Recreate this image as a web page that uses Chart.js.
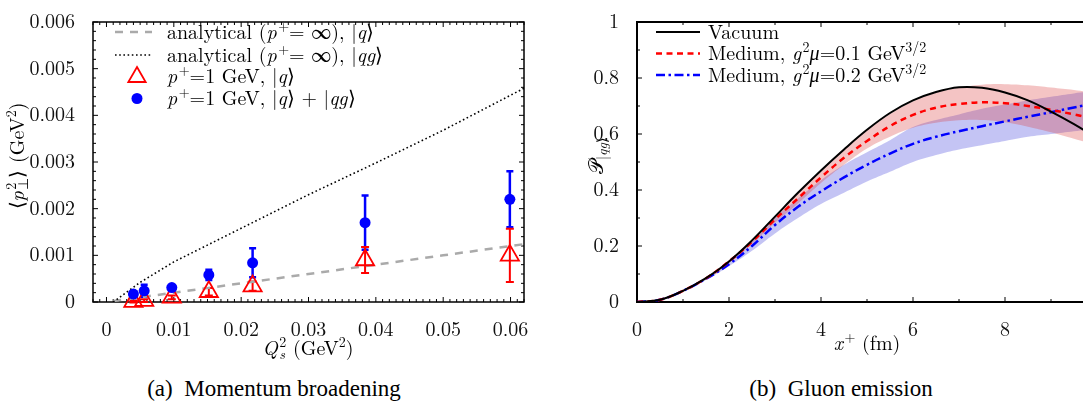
<!DOCTYPE html>
<html>
<head>
<meta charset="utf-8">
<script src="https://cdn.jsdelivr.net/npm/chart.js@4.4.1/dist/chart.umd.min.js"></script>
<style>
html, body { margin: 0; padding: 0; background: #fff; }
#wrap { position: relative; width: 1083px; height: 412px; overflow: hidden; }
canvas { position: absolute; top: 0; }
#left { left: 0; }
#right { left: 560px; }
.cap { position: absolute; top: 376px; transform: translateX(-50%); font-family: 'Liberation Serif'; font-size: 23px; line-height: 26px; color: #000; white-space: nowrap; }
</style>
</head>
<body>
<div id="wrap">
  <canvas id="left" width="560" height="370"></canvas>
  <canvas id="right" width="560" height="370"></canvas>
  <div class="cap" style="left:274px">(a)&nbsp; Momentum broadening</div>
  <div class="cap" style="left:841px">(b)&nbsp; Gluon emission</div>
</div>
<script>
// (a) momentum broadening
const qs = [0.0040, 0.0056, 0.0097, 0.0152, 0.0217, 0.0384, 0.0599];
const pQ = [0.00001, 0.00003, 0.00010, 0.00022, 0.00034, 0.00090, 0.00100];
const pQErr = [0.00002, 0.00003, 0.00004, 0.00008, 0.00010, 0.00028, 0.00057];
const pQG = [0.00017, 0.00024, 0.00031, 0.00058, 0.00084, 0.00170, 0.00220];
const pQGErr = [0.00005, 0.00013, 0.00004, 0.00011, 0.00031, 0.00058, 0.00060];
const anaX = [0.001, 0.005, 0.01, 0.02, 0.03, 0.04, 0.05, 0.062];
const anaQ = [0.00002, 0.0001, 0.0002, 0.0004, 0.0006, 0.0008, 0.001, 0.00124];
const anaQG = [0, 0.00042, 0.00086, 0.00158, 0.0023, 0.00298, 0.00368, 0.00458];

// (b) gluon emission
const xp = [0, 0.5, 1, 1.5, 2, 2.5, 3, 3.5, 4, 4.5, 5, 5.5, 6, 6.5, 7, 7.5, 8, 8.5, 9, 9.5, 10];
const vac = [0, 0.008, 0.04, 0.085, 0.145, 0.22, 0.305, 0.39, 0.47, 0.545, 0.615, 0.675, 0.72, 0.75, 0.767, 0.765, 0.748, 0.72, 0.68, 0.635, 0.585];
const med1 = [0, 0.008, 0.04, 0.085, 0.145, 0.215, 0.295, 0.37, 0.445, 0.515, 0.575, 0.628, 0.668, 0.694, 0.707, 0.713, 0.71, 0.70, 0.686, 0.67, 0.652];
const med1Lo = [0, 0.006, 0.038, 0.083, 0.14, 0.207, 0.283, 0.352, 0.425, 0.49, 0.548, 0.59, 0.622, 0.64, 0.649, 0.65, 0.642, 0.626, 0.606, 0.583, 0.559];
const med1Hi = [0, 0.010, 0.042, 0.087, 0.15, 0.223, 0.307, 0.388, 0.47, 0.547, 0.613, 0.671, 0.716, 0.747, 0.765, 0.776, 0.778, 0.774, 0.766, 0.757, 0.745];
const med2 = [0, 0.008, 0.04, 0.083, 0.135, 0.2, 0.275, 0.34, 0.395, 0.445, 0.49, 0.53, 0.565, 0.59, 0.61, 0.628, 0.645, 0.662, 0.678, 0.695, 0.71];
const med2Lo = [0, 0.006, 0.037, 0.079, 0.128, 0.183, 0.245, 0.30, 0.35, 0.39, 0.43, 0.465, 0.50, 0.525, 0.545, 0.56, 0.575, 0.59, 0.60, 0.61, 0.62];
const med2Hi = [0, 0.010, 0.043, 0.087, 0.142, 0.215, 0.30, 0.37, 0.435, 0.49, 0.535, 0.578, 0.625, 0.65, 0.67, 0.69, 0.705, 0.72, 0.733, 0.745, 0.755];

const FONT = "'Latin Modern Roman', 'Liberation Serif', serif";
Chart.defaults.font.family = FONT;
Chart.defaults.font.size = 20;
Chart.defaults.color = '#111';

const pts = (xs, ys) => xs.map((v, i) => ({ x: v, y: ys[i] }));

// rich text: items are strings or [text, flags]; flags i=italic ^=sup _=sub k=stack next
function drawRich(ctx, items, x, y, size, align) {
  const parts = [];
  let cx = 0, keepX = null, keepW = 0, prevItalic = false;
  for (const it of items) {
    const [t, f] = typeof it === 'string' ? [it, ''] : it;
    const small = f.includes('^') || f.includes('_');
    const font = (f.includes('i') ? 'italic ' : '') + (small ? Math.round(size * 0.7) : size) + 'px ' + FONT;
    ctx.font = font;
    const w = ctx.measureText(t).width;
    const dy = f.includes('^') ? -size * 0.4 : f.includes('_') ? size * 0.22 : 0;
    if (f.includes('^') && prevItalic && keepX === null) cx += 1.5;
    if (keepX !== null) {
      parts.push({ t, font, x: keepX, dy });
      cx = keepX + Math.max(w, keepW);
      keepX = null;
    } else {
      parts.push({ t, font, x: cx, dy });
      if (f.includes('k')) { keepX = cx; keepW = w; } else cx += w;
    }
    prevItalic = f.includes('i') && !small;
  }
  const x0 = align === 'center' ? x - cx / 2 : x;
  ctx.textAlign = 'left';
  ctx.textBaseline = 'alphabetic';
  for (const p of parts) {
    ctx.font = p.font;
    ctx.fillText(p.t, x0 + p.x, y + p.dy);
  }
}

const framePlugin = {
  id: 'frame',
  beforeDatasetsDraw(chart, args, o) {
    const { ctx, chartArea: a, scales } = chart;
    ctx.save();
    ctx.strokeStyle = '#000';
    ctx.lineWidth = o.lw;
    ctx.strokeRect(a.left, a.top, a.right - a.left, a.bottom - a.top);
    ctx.lineWidth = 1;
    ctx.beginPath();
    for (const [sc, major, minor] of [[scales.x, o.xMajor, o.xMinor], [scales.y, o.yMajor, o.yMinor]]) {
      const k0 = Math.ceil(sc.min / minor - 1e-6), k1 = Math.floor(sc.max / minor + 1e-6);
      for (let k = k0; k <= k1; k++) {
        const v = k * minor;
        const isMajor = Math.abs(v / major - Math.round(v / major)) < 1e-6;
        const len = isMajor ? 5 : 3;
        const p = sc.getPixelForValue(v);
        if (sc.axis === 'x') {
          ctx.moveTo(p, a.bottom); ctx.lineTo(p, a.bottom - len);
          ctx.moveTo(p, a.top); ctx.lineTo(p, a.top + len);
        } else {
          ctx.moveTo(a.left, p); ctx.lineTo(a.left + len, p);
          ctx.moveTo(a.right, p); ctx.lineTo(a.right - len, p);
        }
      }
    }
    ctx.stroke();
    ctx.restore();
  }
};

const tickFont = { family: FONT, size: 20 };

// ---------- left chart ----------
const errPlugin = {
  id: 'errbars',
  beforeDatasetsDraw(chart) {
    const { ctx, scales: { x, y } } = chart;
    const bars = (vals, errs, color, lw, cap) => {
      ctx.strokeStyle = color;
      ctx.lineWidth = lw;
      ctx.beginPath();
      qs.forEach((q, i) => {
        const px = x.getPixelForValue(q);
        const top = y.getPixelForValue(vals[i] + errs[i]);
        const bot = y.getPixelForValue(vals[i] - errs[i]);
        ctx.moveTo(px, top); ctx.lineTo(px, bot);
        ctx.moveTo(px - cap, top); ctx.lineTo(px + cap, top);
        ctx.moveTo(px - cap, bot); ctx.lineTo(px + cap, bot);
      });
      ctx.stroke();
    };
    ctx.save();
    bars(pQG, pQGErr, '#0000ff', 2.5, 3.5);
    bars(pQ, pQErr, '#ff0000', 2, 4);
    ctx.restore();
  }
};

const leftText = {
  id: 'leftText',
  afterDraw(chart) {
    const ctx = chart.ctx;
    ctx.save();
    ctx.fillStyle = '#000';
    // axis titles
    drawRich(ctx, [['Q', 'i'], ['2', '^k'], ['s', '_i'], ' (GeV', ['2', '^'], ')'], 308, 355, 20, 'center');
    ctx.translate(24, 156);
    ctx.rotate(-Math.PI / 2);
    drawRich(ctx, ['⟨', ['p', 'i'], ['2', '^k'], ['⊥', '_'], '⟩ (GeV', ['2', '^'], ')'], 0, 0, 20, 'center');
    ctx.restore();

    // legend
    ctx.save();
    ctx.lineWidth = 2.5;
    ctx.strokeStyle = '#aaaaaa';
    ctx.setLineDash([8, 7]);
    ctx.beginPath(); ctx.moveTo(115, 32); ctx.lineTo(152, 32); ctx.stroke();
    ctx.strokeStyle = '#000';
    ctx.lineWidth = 1.6;
    ctx.setLineDash([1.6, 2.6]);
    ctx.beginPath(); ctx.moveTo(115, 55); ctx.lineTo(152, 55); ctx.stroke();
    ctx.setLineDash([]);
    ctx.strokeStyle = '#ff0000';
    ctx.lineWidth = 1.8;
    const r = 10;
    ctx.beginPath();
    ctx.moveTo(137, 77 - r);
    ctx.lineTo(137 + r * 0.866, 77 + r / 2);
    ctx.lineTo(137 - r * 0.866, 77 + r / 2);
    ctx.closePath();
    ctx.stroke();
    ctx.fillStyle = '#0000ff';
    ctx.beginPath(); ctx.arc(137, 98.5, 5.5, 0, Math.PI * 2); ctx.fill();
    ctx.fillStyle = '#000';
    drawRich(ctx, ['analytical (', ['p', 'i'], ['+', '^'], '= ∞), |', ['q', 'i'], '⟩'], 167, 38.5, 20, 'left');
    drawRich(ctx, ['analytical (', ['p', 'i'], ['+', '^'], '= ∞), |', ['qg', 'i'], '⟩'], 167, 61.5, 20, 'left');
    drawRich(ctx, [['p', 'i'], ['+', '^'], '=1 GeV, |', ['q', 'i'], '⟩'], 167, 83, 20, 'left');
    drawRich(ctx, [['p', 'i'], ['+', '^'], '=1 GeV, |', ['q', 'i'], '⟩ + |', ['qg', 'i'], '⟩'], 167, 105, 20, 'left');
    ctx.restore();
  }
};

new Chart(document.getElementById('left'), {
  type: 'scatter',
  data: {
    datasets: [
      { data: pts(qs, pQG), pointStyle: 'circle', pointRadius: 5.5, backgroundColor: '#0000ff', borderColor: '#0000ff', borderWidth: 0, clip: false },
      { data: pts(qs, pQ), pointStyle: 'triangle', pointRadius: 10.5, backgroundColor: 'rgba(0,0,0,0)', borderColor: '#ff0000', borderWidth: 1.8, clip: false },
      { data: pts(anaX, anaQG), showLine: true, pointRadius: 0, borderColor: '#000', borderWidth: 1.6, borderDash: [1.6, 2.6] },
      { data: pts(anaX, anaQ), showLine: true, pointRadius: 0, borderColor: '#aaaaaa', borderWidth: 2.5, borderDash: [8, 7] }
    ]
  },
  options: {
    responsive: false,
    animation: false,
    devicePixelRatio: 1,
    layout: { padding: { left: 0, right: 36, top: 10, bottom: 0 } },
    plugins: {
      legend: { display: false },
      tooltip: { enabled: false },
      frame: { lw: 1.5, xMajor: 0.01, xMinor: 0.001, yMajor: 0.001, yMinor: 0.0002 }
    },
    scales: {
      x: {
        type: 'linear', min: -0.002, max: 0.062,
        grid: { display: false }, border: { display: false },
        ticks: { stepSize: 0.01, includeBounds: false, font: tickFont, color: '#111', padding: 8, maxRotation: 0,
          callback: v => Math.abs(v) < 1e-9 ? '0' : v.toFixed(2) },
        afterFit: s => { s.height = 68; }
      },
      y: {
        type: 'linear', min: 0, max: 0.006,
        grid: { display: false }, border: { display: false },
        ticks: { stepSize: 0.001, font: tickFont, color: '#111', padding: 10,
          callback: v => Math.abs(v) < 1e-9 ? '0' : v.toFixed(3) },
        afterFit: s => { s.width = 93; }
      }
    }
  },
  plugins: [framePlugin, errPlugin, leftText]
});

// ---------- right chart ----------
const rightText = {
  id: 'rightText',
  afterDraw(chart) {
    const ctx = chart.ctx;
    ctx.save();
    ctx.fillStyle = '#000';
    drawRich(ctx, [['x', 'i'], ['+', '^'], ' (fm)'], 307, 350, 20, 'center');
    ctx.translate(43, 156);
    ctx.rotate(-Math.PI / 2);
    drawRich(ctx, ['𝒫', ['|', '_'], ['qg', '_i'], ['⟩', '_']], 0, 0, 20, 'center');
    ctx.restore();

    ctx.save();
    const sample = (y, color, dash) => {
      ctx.strokeStyle = color;
      ctx.lineWidth = color === '#000' ? 2 : 2.5;
      ctx.setLineDash(dash);
      ctx.beginPath(); ctx.moveTo(96, y); ctx.lineTo(140, y); ctx.stroke();
    };
    sample(32, '#000', []);
    sample(53.5, '#ff0000', [6, 4.5]);
    sample(75, '#0000ff', [9, 3.5, 2.5, 3.5]);
    ctx.fillStyle = '#000';
    drawRich(ctx, ['Vacuum'], 148, 38.5, 20, 'left');
    drawRich(ctx, ['Medium, ', ['g', 'i'], ['2', '^'], ['μ', 'i'], '=0.1 GeV', ['3/2', '^']], 148, 60, 20, 'left');
    drawRich(ctx, ['Medium, ', ['g', 'i'], ['2', '^'], ['μ', 'i'], '=0.2 GeV', ['3/2', '^']], 148, 81.5, 20, 'left');
    ctx.restore();
  }
};

const curve = { showLine: true, pointRadius: 0, tension: 0.4 };

new Chart(document.getElementById('right'), {
  type: 'scatter',
  data: {
    datasets: [
      { ...curve, data: pts(xp, vac), borderColor: '#000', borderWidth: 2 },
      { ...curve, data: pts(xp, med1), borderColor: '#ff0000', borderWidth: 2.5, borderDash: [6, 4.5] },
      { ...curve, data: pts(xp, med2), borderColor: '#0000ff', borderWidth: 2.5, borderDash: [9, 3.5, 2.5, 3.5] },
      { ...curve, data: pts(xp, med1Hi), borderWidth: 0, borderColor: 'rgba(0,0,0,0)', fill: 4, backgroundColor: 'rgba(220,60,60,0.3)' },
      { ...curve, data: pts(xp, med1Lo), borderWidth: 0, borderColor: 'rgba(0,0,0,0)' },
      { ...curve, data: pts(xp, med2Hi), borderWidth: 0, borderColor: 'rgba(0,0,0,0)', fill: 6, backgroundColor: 'rgba(60,60,220,0.3)' },
      { ...curve, data: pts(xp, med2Lo), borderWidth: 0, borderColor: 'rgba(0,0,0,0)' }
    ]
  },
  options: {
    responsive: false,
    animation: false,
    devicePixelRatio: 1,
    layout: { padding: { left: 0, right: 23, top: 10, bottom: 0 } },
    plugins: {
      legend: { display: false },
      tooltip: { enabled: false },
      frame: { lw: 2, xMajor: 2, xMinor: 1, yMajor: 0.2, yMinor: 0.1 }
    },
    scales: {
      x: {
        type: 'linear', min: 0, max: 10,
        grid: { display: false }, border: { display: false },
        ticks: { stepSize: 2, font: tickFont, color: '#111', padding: 8, maxRotation: 0 },
        afterFit: s => { s.height = 68; }
      },
      y: {
        type: 'linear', min: 0, max: 1,
        grid: { display: false }, border: { display: false },
        ticks: { stepSize: 0.2, font: tickFont, color: '#111', padding: 10,
          callback: v => String(+v.toFixed(1)) },
        afterFit: s => { s.width = 77; }
      }
    }
  },
  plugins: [framePlugin, rightText]
});
</script>
</body>
</html>
